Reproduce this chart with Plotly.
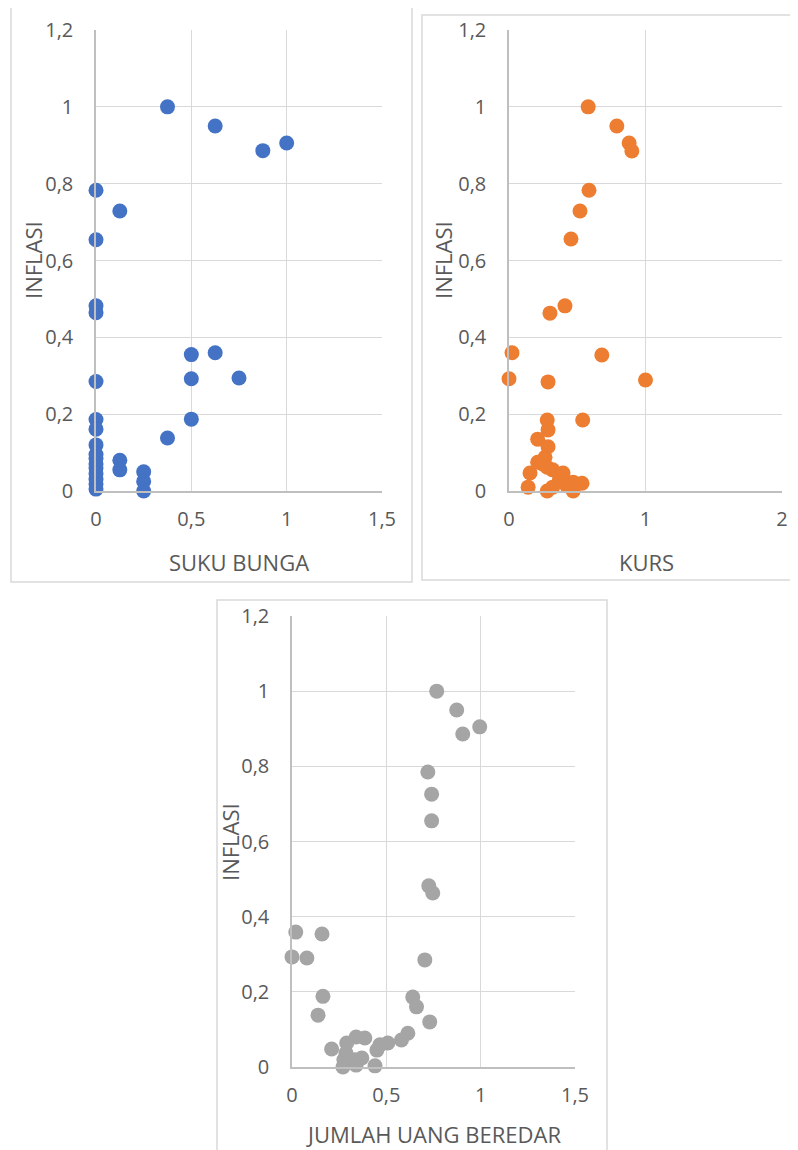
import plotly.graph_objects as go

# ---------------- data ----------------
suku_bunga = [0.375, 0.625, 0.875, 1.0, 0, 0.125, 0, 0, 0, 0.5, 0.625, 0.5, 0.75, 0, 0.5, 0.375,
              0, 0, 0, 0, 0, 0, 0, 0, 0, 0, 0, 0.125, 0.125, 0.25, 0.25, 0.25]
inflasi_1 = [1.0, 0.95, 0.886, 0.906, 0.783, 0.729, 0.654, 0.482, 0.464, 0.355, 0.36, 0.292, 0.294, 0.285, 0.187, 0.138,
             0.186, 0.161, 0.12, 0.095, 0.085, 0.07, 0.06, 0.045, 0.03, 0.018, 0.005, 0.08, 0.055, 0.05, 0.025, 0.0]

kurs = [0.58, 0.79, 0.88, 0.9, 0.586, 0.52, 0.454, 0.41, 0.30, 0.022, 0.68, 0.0, 0.286, 1.0, 0.28, 0.54,
        0.286, 0.21, 0.286, 0.264, 0.21, 0.25, 0.28, 0.154, 0.32, 0.396, 0.37, 0.14, 0.28, 0.32, 0.47, 0.47, 0.535, 0.42]
inflasi_2 = [1.0, 0.95, 0.906, 0.885, 0.783, 0.729, 0.656, 0.482, 0.463, 0.36, 0.354, 0.292, 0.284, 0.289, 0.185, 0.185,
             0.159, 0.135, 0.115, 0.088, 0.075, 0.07, 0.062, 0.047, 0.055, 0.047, 0.03, 0.01, 0.0, 0.01, 0.023, 0.0, 0.02, 0.015]

jub = [0.767, 0.873, 0.905, 0.995, 0.72, 0.74, 0.74, 0.725, 0.746, 0.02, 0.159, 0.0, 0.079, 0.704, 0.164, 0.138,
       0.64, 0.66, 0.73, 0.614, 0.58, 0.508, 0.466, 0.45, 0.44, 0.21, 0.29, 0.34, 0.386, 0.286, 0.275, 0.27,
       0.333, 0.37, 0.34]
inflasi_3 = [1.0, 0.95, 0.886, 0.905, 0.785, 0.726, 0.655, 0.482, 0.463, 0.359, 0.354, 0.293, 0.29, 0.285, 0.188, 0.138,
             0.186, 0.16, 0.12, 0.09, 0.072, 0.064, 0.059, 0.045, 0.003, 0.048, 0.064, 0.08, 0.077, 0.037, 0.019, 0.0,
             0.019, 0.024, 0.005]

y_tickvals = [0, 0.2, 0.4, 0.6, 0.8, 1.0, 1.2]
y_ticktext = ["0", "0,2", "0,4", "0,6", "0,8", "1", "1,2"]
x_tickvals_15 = [0, 0.5, 1.0, 1.5]
x_ticktext_15 = ["0", "0,5", "1", "1,5"]
x_tickvals_2 = [0, 1, 2]
x_ticktext_2 = ["0", "1", "2"]

x_titles = ["SUKU BUNGA", "KURS", "JUMLAH UANG BEREDAR"]
y_title = "INFLASI"
colors = ["#4472C4", "#ED7D31", "#A5A5A5"]

# ---------------- layout helpers ----------------
W, H = 798, 1150
OX, OY = 8, 8  # page body offset of the plot div
FONT = "Open Sans"
TXT = "#595959"


def px(x):
    return (x - OX) / W


def py(y):
    return 1 - (y - OY) / H


fig = go.Figure()

panels = [
    dict(x=suku_bunga, y=inflasi_1, xr=[0, 1.5], tv=x_tickvals_15, tt=x_ticktext_15,
         plot=(96, 382, 30, 491), box=(11, 412, 7, 582), xt=(239, 562), yt=(33, 260)),
    dict(x=kurs, y=inflasi_2, xr=[0, 2], tv=x_tickvals_2, tt=x_ticktext_2,
         plot=(509, 782, 30, 491), box=(422, 802, 15, 580), xt=(646, 562), yt=(443, 260)),
    dict(x=jub, y=inflasi_3, xr=[0, 1.5], tv=x_tickvals_15, tt=x_ticktext_15,
         plot=(292, 575, 616, 1067), box=(217, 607, 600, 1156), xt=(433, 1134), yt=(230, 842)),
]

shapes = []
annotations = []
for i, p in enumerate(panels, start=1):
    xa = "x" if i == 1 else f"x{i}"
    ya = "y" if i == 1 else f"y{i}"
    fig.add_trace(go.Scatter(
        x=p["x"], y=p["y"], mode="markers", xaxis=xa, yaxis=ya,
        marker=dict(color=colors[i - 1], size=15, line=dict(width=0)),
        cliponaxis=False, showlegend=False,
    ))
    l, r, t, b = p["plot"]
    xkey = "xaxis" if i == 1 else f"xaxis{i}"
    ykey = "yaxis" if i == 1 else f"yaxis{i}"
    fig.update_layout(**{
        xkey: dict(domain=[px(l), px(r)], anchor=ya, range=p["xr"], tickvals=p["tv"], ticktext=p["tt"],
                   showgrid=True, gridcolor="#D9D9D9", gridwidth=1, zeroline=False,
                   showline=True, linecolor="#BFBFBF", linewidth=1.5, automargin=False,
                   ticks="outside", ticklen=9, tickcolor="rgba(0,0,0,0)",
                   tickfont=dict(family=FONT, size=20, color=TXT), fixedrange=True),
        ykey: dict(domain=[py(b), py(t)], anchor=xa, range=[0, 1.2], tickvals=y_tickvals, ticktext=y_ticktext,
                   showgrid=True, gridcolor="#D9D9D9", gridwidth=1, zeroline=False,
                   showline=True, linecolor="#BFBFBF", linewidth=1.5, automargin=False,
                   ticks="outside", ticklen=17, tickcolor="rgba(0,0,0,0)",
                   tickfont=dict(family=FONT, size=20, color=TXT), fixedrange=True),
    })
    bl, br, bt, bb = p["box"]
    shapes.append(dict(type="rect", xref="paper", yref="paper", x0=px(bl), x1=px(br), y0=py(bb), y1=py(bt),
                       line=dict(color="#D9D9D9", width=1.5), fillcolor="rgba(0,0,0,0)", layer="below"))
    annotations.append(dict(text=x_titles[i - 1], xref="paper", yref="paper", x=px(p["xt"][0]), y=py(p["xt"][1]),
                            xanchor="center", yanchor="middle", showarrow=False,
                            font=dict(family=FONT, size=22, color=TXT)))
    annotations.append(dict(text=y_title, xref="paper", yref="paper", x=px(p["yt"][0]), y=py(p["yt"][1]),
                            xanchor="center", yanchor="middle", showarrow=False, textangle=-90,
                            font=dict(family=FONT, size=22, color=TXT)))

fig.update_layout(
    width=W, height=H, margin=dict(l=0, r=0, t=0, b=0, autoexpand=False),
    paper_bgcolor="white", plot_bgcolor="white",
    shapes=shapes, annotations=annotations, showlegend=False,
)

fig.write_html("out.html")
